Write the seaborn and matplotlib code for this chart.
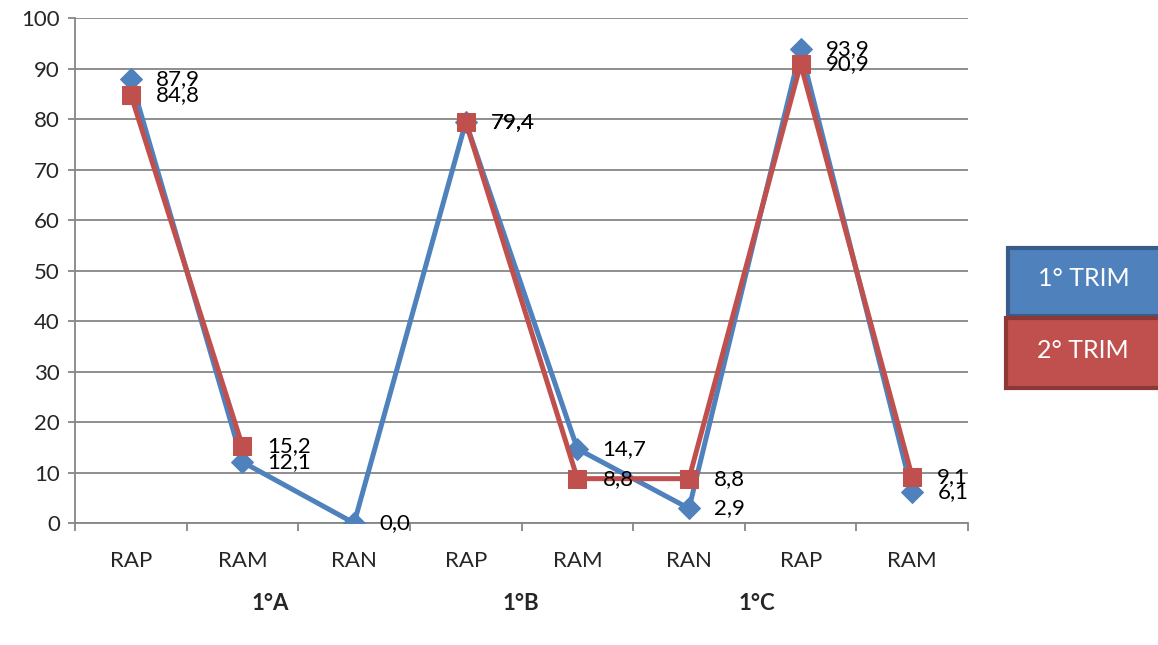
import numpy as np
import pandas as pd
import matplotlib
matplotlib.use("Agg")
import matplotlib.pyplot as plt
import seaborn as sns
from matplotlib.patches import Rectangle

# dati
categorie = ["RAP", "RAM", "RAN", "RAP", "RAM", "RAN", "RAP", "RAM"]
classi = ["1°A", "1°B", "1°C"]
classi_pos = [1.25, 3.49, 5.61]
trim1 = [87.9, 12.1, 0.0, 79.4, 14.7, 2.9, 93.9, 6.1]
trim2 = [84.8, 15.2, np.nan, 79.4, 8.8, 8.8, 90.9, 9.1]

sns.set_style("white")
plt.rcParams['font.family'] = ['Lato', 'DejaVu Sans']

fig = plt.figure(figsize=(11.58, 6.45), dpi=100)
ax = fig.add_axes([0.0648, 0.189, 0.7712, 0.783])

blu = "#4F81BD"
rosso = "#C0504D"
fs = 16

df = pd.DataFrame({"x": np.arange(len(categorie)), "t1": trim1, "t2": trim2})

sns.lineplot(data=df, x="x", y="t1", ax=ax, color=blu, lw=3.6,
             marker="D", markersize=11, markeredgecolor=blu, zorder=3)

# serie 2 spezzata dove manca il valore
seg = df["t2"].isna().cumsum()
for k, d in df[df["t2"].notna()].groupby(seg[df["t2"].notna()]):
    sns.lineplot(data=d, x="x", y="t2", ax=ax, color=rosso, lw=3.6,
                 marker="s", markersize=13.5, markeredgecolor=rosso, zorder=4)

for i in range(len(categorie)):
    ax.annotate(f"{trim1[i]:.1f}".replace(".", ","), (i, trim1[i]),
                xytext=(18, 0), textcoords="offset points", va="center",
                ha="left", fontsize=fs, color="black", zorder=5)
    if not np.isnan(trim2[i]):
        ax.annotate(f"{trim2[i]:.1f}".replace(".", ","), (i, trim2[i]),
                    xytext=(18, 0), textcoords="offset points", va="center",
                    ha="left", fontsize=fs, color="black", zorder=5)

ax.set_xlim(-0.5, 7.5)
ax.set_ylim(0, 100)
ax.set_yticks(range(0, 101, 10))
ax.set_xticks(range(len(categorie)))
ax.set_xticklabels(categorie)
ax.set_xticks(np.arange(-0.5, 8, 1), minor=True)
ax.tick_params(axis="x", which="major", length=0, pad=20, labelsize=fs)
ax.tick_params(axis="x", which="minor", length=6, width=1.3, color="#868686",
               direction="out", bottom=True)
ax.tick_params(axis="y", length=5, width=1.3, color="#868686", direction="out",
               left=True, pad=6, labelsize=fs)
ax.set_xlabel("")
ax.set_ylabel("")
ax.grid(axis="y", color="#868686", lw=1.3)
ax.set_axisbelow(True)
for s in ["top", "right"]:
    ax.spines[s].set_visible(False)
for s in ["left", "bottom"]:
    ax.spines[s].set_color("#868686")
    ax.spines[s].set_linewidth(1.3)

for lab, p in zip(classi, classi_pos):
    ax.text(p, -0.16, lab, transform=ax.get_xaxis_transform(), ha="center",
            va="center", fontsize=fs, fontweight="bold")

# legenda a riquadri
fig.patches.append(Rectangle((1008 / 1158, 1 - 316 / 645), 160 / 1158, 68 / 645,
                             transform=fig.transFigure, facecolor=blu,
                             edgecolor="#385D8A", lw=3))
fig.patches.append(Rectangle((1006 / 1158, 1 - 388 / 645), 160 / 1158, 70 / 645,
                             transform=fig.transFigure, facecolor=rosso,
                             edgecolor="#8C3836", lw=3))
fig.text(1084 / 1158, 1 - 278 / 645, "1° TRIM", color="white", fontsize=18,
         ha="center", va="center")
fig.text(1083 / 1158, 1 - 350 / 645, "2° TRIM", color="white", fontsize=18,
         ha="center", va="center")

fig.savefig("out.png", dpi=100)
